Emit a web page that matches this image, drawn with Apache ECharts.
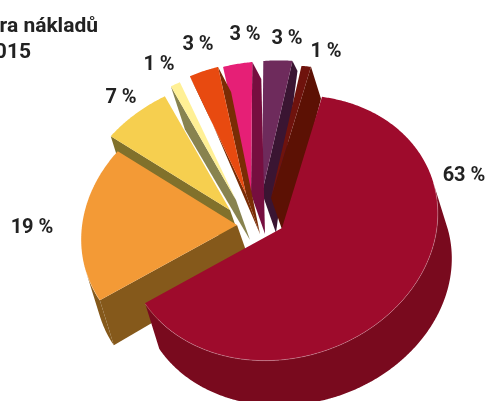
<!DOCTYPE html>
<html>
<head>
<meta charset="utf-8">
<style>
html, body { margin: 0; padding: 0; background: #fff; }
#main { width: 487px; height: 401px; }
</style>
<script src="https://cdn.jsdelivr.net/npm/echarts@6/dist/echarts.min.js"></script>
</head>
<body>
<div id="main"></div>
<script>
// hodnoty z grafu, po smeru hodin od velke vysece
var sliceValues = [63, 19, 7, 1, 3, 3, 3, 1];
var titleLines = ['ra nákladů', '015'];

// vzhled
var topColors = ['#9e0b2c', '#f39a36', '#f6cf4f', '#fff095', '#e84a10', '#e61f76', '#6e2b5c', '#6f130d'];
var sideColors = ['#790a1e', '#85591b', '#81712b', '#88834f', '#7a2c05', '#760e3f', '#3a1532', '#5c1104'];
var drawRank = [8, 7, 5, 6, 4, 2, 1, 3];
var explode = [[24, 13], [-21, 10], [-28, -5], [-22, -15], [-12, -21], [-7, -21], [4, -22], [13, -17]];
var rimDrop = [[14, 45], [14, 45], [14, 45], [14, 43], [13, 25], [9, 17], [5, 10], [10, 32]];
var labelPos = [[464, 176], [32, 228], [121, 98], [159, 65], [198, 45], [245, 35], [287, 39], [326, 52]];

var center = [258, 215];
var radiusA = 158, radiusB = 130;
var tilt = 17 * Math.PI / 180;
var startAngle = 29;
var apexDrop = [14, 40];
var labelFont = '700 20px Roboto';

var total = sliceValues.reduce(function (a, b) { return a + b; }, 0);

function rimPoint(apex, deg) {
	var t = deg * Math.PI / 180;
	var p = radiusA * Math.sin(t), q = -radiusB * Math.cos(t);
	return [
		apex[0] + p * Math.cos(tilt) + q * Math.sin(tilt),
		apex[1] - p * Math.sin(tilt) + q * Math.cos(tilt)
	];
}

function shift(pt, d) {
	return [pt[0] + d[0], pt[1] + d[1]];
}

function renderSlice(params, api) {
	var i = params.dataIndex;
	var before = 0;
	for (var k = 0; k < i; k++) before += sliceValues[k];
	var a0 = startAngle + before / total * 360;
	var a1 = a0 + api.value(0) / total * 360;
	var apex = [center[0] + explode[i][0], center[1] + explode[i][1]];
	var drop = rimDrop[i];
	var z = drawRank[i] * 10;
	var children = [];
	var side = { fill: sideColors[i] };

	// radialni steny
	var ra = rimPoint(apex, a0), rb = rimPoint(apex, a1);
	var da = [ra[0] - apex[0], ra[1] - apex[1]];
	var db = [rb[0] - apex[0], rb[1] - apex[1]];
	if (da[1] * apexDrop[0] - da[0] * apexDrop[1] > 0) {
		children.push({ type: 'polygon', z2: z, style: side,
			shape: { points: [apex, ra, shift(ra, drop), shift(apex, apexDrop)] } });
	}
	if (-db[1] * apexDrop[0] + db[0] * apexDrop[1] > 0) {
		children.push({ type: 'polygon', z2: z, style: side,
			shape: { points: [apex, rb, shift(rb, drop), shift(apex, apexDrop)] } });
	}

	// oblouk: horni hrana a vnejsi plast
	var arc = [], wallTop = [];
	for (var d = a0; d < a1; d += 0.5) {
		arc.push(rimPoint(apex, d));
		var n = ((d % 360) + 360) % 360;
		if (n > 90 && n < 270) wallTop.push(rimPoint(apex, d));
	}
	arc.push(rb);
	if (wallTop.length > 1) {
		var wall = wallTop.slice();
		for (var w = wallTop.length - 1; w >= 0; w--) wall.push(shift(wallTop[w], drop));
		children.push({ type: 'polygon', z2: z + 1, style: side, shape: { points: wall } });
		children.push({ type: 'polyline', z2: z + 3, shape: { points: wallTop },
			style: { fill: null, stroke: 'rgba(255,255,255,0.35)', lineWidth: 0.7 } });
	}

	children.push({ type: 'polygon', z2: z + 2, style: { fill: topColors[i] },
		shape: { points: [apex].concat(arc) } });

	children.push({ type: 'text', z2: 200, style: {
		text: api.value(0) + ' %', x: labelPos[i][0], y: labelPos[i][1],
		align: 'center', verticalAlign: 'middle', font: labelFont, fill: '#222222'
	} });

	return { type: 'group', children: children };
}

var chart = echarts.init(document.getElementById('main'), null, { renderer: 'canvas' });
chart.setOption({
	backgroundColor: '#ffffff',
	animation: false,
	graphic: [
		{ type: 'text', right: 487 - 98, top: 16, silent: true,
			style: { text: titleLines[0], font: '700 21px Roboto', fill: '#222222' } },
		{ type: 'text', right: 487 - 31, top: 42, silent: true,
			style: { text: titleLines[1], font: '700 21px Roboto', fill: '#222222' } }
	],
	series: [{
		type: 'custom',
		coordinateSystem: 'none',
		silent: true,
		renderItem: renderSlice,
		data: sliceValues.map(function (v) { return [v]; })
	}]
});
</script>
</body>
</html>
